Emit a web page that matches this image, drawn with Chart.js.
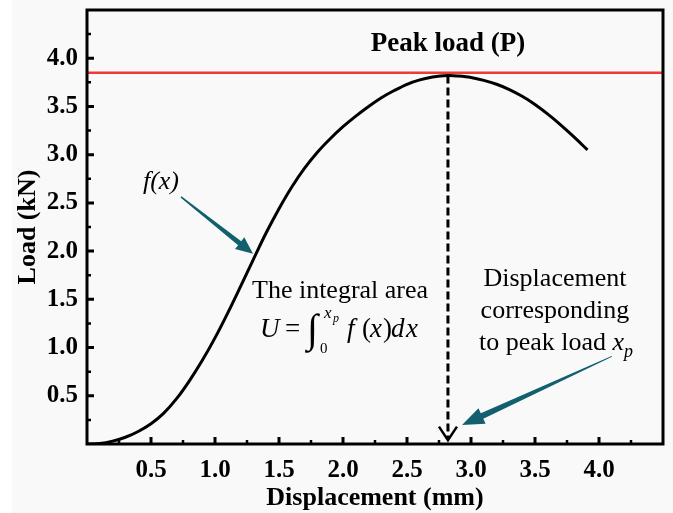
<!DOCTYPE html>
<html>
<head>
<meta charset="utf-8">
<title>Load - displacement</title>
<script src="https://cdn.jsdelivr.net/npm/chart.js@4.4.0/dist/chart.umd.min.js"></script>
<style>
  html, body { margin: 0; padding: 0; background: #fff; }
  canvas { display: block; }
</style>
</head>
<body>
<canvas id="myChart" width="673" height="513"></canvas>
<script>
// load-displacement curve (mm, kN)
const displacement = [0, 0.1, 0.2, 0.3, 0.4, 0.5, 0.6, 0.7, 0.8, 0.9, 1.0, 1.1, 1.2, 1.3, 1.4, 1.5,
  1.6, 1.7, 1.8, 1.9, 2.0, 2.1, 2.2, 2.3, 2.4, 2.5, 2.6, 2.7, 2.82, 2.9, 3.0, 3.1, 3.2, 3.3,
  3.4, 3.5, 3.6, 3.7, 3.8, 3.91];
const load = [0, 0.005, 0.03, 0.07, 0.13, 0.21, 0.32, 0.47, 0.655, 0.865, 1.10, 1.36, 1.635, 1.915, 2.19, 2.44,
  2.665, 2.86, 3.025, 3.165, 3.29, 3.40, 3.50, 3.59, 3.665, 3.73, 3.775, 3.805, 3.82, 3.815, 3.80, 3.77, 3.73, 3.675,
  3.605, 3.52, 3.42, 3.31, 3.19, 3.05];

const peakLoad = 3.85;   // horizontal red line
const peakX = 2.82;      // displacement at peak load
const peakY = 3.82;

const xTicks = [0.5, 1.0, 1.5, 2.0, 2.5, 3.0, 3.5, 4.0];
const yTicks = [0.5, 1.0, 1.5, 2.0, 2.5, 3.0, 3.5, 4.0];
const xMinor = [0.25, 0.75, 1.25, 1.75, 2.25, 2.75, 3.25, 3.75, 4.25];
const yMinor = [0.25, 0.75, 1.25, 1.75, 2.25, 2.75, 3.25, 3.75, 4.25];

const SERIF = '"Liberation Serif", "Times New Roman", serif';
const TEAL = '#12606e';

function arrow(ctx, x1, y1, x2, y2, wTail, wHead, headLen, headW) {
  const a = Math.atan2(y2 - y1, x2 - x1);
  const len = Math.hypot(x2 - x1, y2 - y1);
  ctx.save();
  ctx.translate(x1, y1);
  ctx.rotate(a);
  ctx.fillStyle = TEAL;
  ctx.beginPath();
  ctx.moveTo(0, -wTail / 2);
  ctx.lineTo(len - headLen, -wHead / 2);
  ctx.lineTo(len - headLen, -headW / 2);
  ctx.lineTo(len, 0);
  ctx.lineTo(len - headLen, headW / 2);
  ctx.lineTo(len - headLen, wHead / 2);
  ctx.lineTo(0, wTail / 2);
  ctx.closePath();
  ctx.fill();
  ctx.restore();
}

// text pieces placed at offsets from an origin
function pieces(ctx, parts, x, y) {
  parts.forEach(p => {
    ctx.font = p.font;
    ctx.fillText(p.t, x + p.dx, y + (p.dy || 0));
  });
}

const decorations = {
  id: 'decorations',
  beforeDraw(chart) {
    const ctx = chart.ctx;
    ctx.save();
    ctx.fillStyle = '#f9f9f9';
    ctx.fillRect(12, 0, chart.width - 12, chart.height);
    ctx.restore();
  },
  afterDatasetsDraw(chart) {
    const ctx = chart.ctx;
    const xs = chart.scales.x, ys = chart.scales.y;
    const a = chart.chartArea;
    const px = v => xs.getPixelForValue(v);
    const py = v => ys.getPixelForValue(v);

    ctx.save();
    // frame
    ctx.strokeStyle = '#000';
    ctx.lineWidth = 3;
    ctx.strokeRect(a.left, a.top, a.right - a.left, a.bottom - a.top);

    // inward ticks on bottom and left axes
    ctx.lineWidth = 3;
    ctx.beginPath();
    xTicks.forEach(v => { ctx.moveTo(px(v), a.bottom); ctx.lineTo(px(v), a.bottom - 7); });
    yTicks.forEach(v => { ctx.moveTo(a.left, py(v)); ctx.lineTo(a.left + 7, py(v)); });
    ctx.stroke();
    ctx.lineWidth = 2.5;
    ctx.beginPath();
    xMinor.forEach(v => { ctx.moveTo(px(v), a.bottom); ctx.lineTo(px(v), a.bottom - 4); });
    yMinor.forEach(v => { ctx.moveTo(a.left, py(v)); ctx.lineTo(a.left + 4, py(v)); });
    ctx.stroke();

    // open arrow head at the foot of the dashed line
    ctx.lineWidth = 2.5;
    ctx.beginPath();
    ctx.moveTo(px(peakX) - 9, py(0.18));
    ctx.lineTo(px(peakX), py(0.04));
    ctx.lineTo(px(peakX) + 9, py(0.18));
    ctx.stroke();

    // labels
    ctx.fillStyle = '#000';
    ctx.textAlign = 'center';
    ctx.textBaseline = 'alphabetic';
    ctx.font = 'bold 27px ' + SERIF;
    ctx.fillText('Peak load (P)', px(peakX), py(4.07));

    ctx.font = 'italic 26px ' + SERIF;
    ctx.fillText('f(x)', px(0.578), py(2.645));

    ctx.font = '26px ' + SERIF;
    ctx.fillText('The integral area', px(1.977), py(1.519));

    ctx.font = '26px ' + SERIF;
    ctx.fillText('Displacement', px(3.656), py(1.643));
    ctx.fillText('corresponding', px(3.656), py(1.302));

    ctx.textAlign = 'left';
    ctx.font = '26px ' + SERIF;
    const head = 'to peak load ';
    const wHead = ctx.measureText(head).width;
    ctx.font = 'italic 26px ' + SERIF;
    const wx = ctx.measureText('x').width;
    const x3 = px(3.656) - (wHead + wx + 7) / 2;
    const y3 = py(0.971);
    pieces(ctx, [
      { t: head, font: '26px ' + SERIF, dx: 0 },
      { t: 'x', font: 'italic 26px ' + SERIF, dx: wHead },
      { t: 'p', font: 'italic 18px ' + SERIF, dx: wHead + wx, dy: 7 }
    ], x3, y3);

    // U = integral from 0 to x_p of f(x)dx
    pieces(ctx, [
      { t: 'U', font: 'italic 27px ' + SERIF, dx: 0 },
      { t: '=', font: '27px ' + SERIF, dx: 25 },
      { t: '\u222B', font: '40px ' + SERIF, dx: 47, dy: 5 },
      { t: 'x', font: 'italic 17px ' + SERIF, dx: 64, dy: -19 },
      { t: 'p', font: 'italic 12px ' + SERIF, dx: 73, dy: -15 },
      { t: '0', font: '15px ' + SERIF, dx: 60, dy: 16 },
      { t: 'f', font: 'italic 27px ' + SERIF, dx: 87 },
      { t: '(', font: '27px ' + SERIF, dx: 102 },
      { t: 'x', font: 'italic 27px ' + SERIF, dx: 110 },
      { t: ')', font: '27px ' + SERIF, dx: 123 },
      { t: 'd', font: 'italic 27px ' + SERIF, dx: 131 },
      { t: 'x', font: 'italic 27px ' + SERIF, dx: 146 }
    ], px(1.352), py(1.105));

    // teal pointers
    arrow(ctx, px(0.734), py(2.562), px(1.297), py(1.973), 1.5, 5, 17, 15);
    arrow(ctx, px(4.10), py(0.909), px(2.93), py(0.196), 1, 6, 22, 17);
    ctx.restore();
  }
};

const curve = displacement.map((d, i) => ({ x: d, y: load[i] }));

const ctx = document.getElementById('myChart').getContext('2d');
const chart = new Chart(ctx, {
  type: 'line',
  data: {
    datasets: [
      {
        data: curve,
        borderColor: '#000',
        borderWidth: 3,
        pointRadius: 0,
        tension: 0.35
      },
      {
        data: [{ x: 0, y: peakLoad }, { x: 4.5, y: peakLoad }],
        borderColor: '#f03a3a',
        borderWidth: 2.5,
        pointRadius: 0
      },
      {
        data: [{ x: peakX, y: peakY }, { x: peakX, y: 0.05 }],
        borderColor: '#000',
        borderWidth: 3,
        borderDash: [8, 4],
        pointRadius: 0
      }
    ]
  },
  options: {
    responsive: false,
    animation: false,
    layout: { padding: { top: 10, right: 10, left: 0, bottom: 0 } },
    plugins: {
      legend: { display: false },
      tooltip: { enabled: false }
    },
    scales: {
      x: {
        type: 'linear',
        min: 0,
        max: 4.5,
        grid: { display: false, drawTicks: false },
        border: { display: false },
        afterBuildTicks: s => { s.ticks = xTicks.map(v => ({ value: v })); },
        afterFit: s => { s.height = 69; s.paddingLeft = 0; s.paddingRight = 0; },
        ticks: {
          color: '#000',
          padding: 12,
          font: { family: SERIF, weight: 'bold', size: 25 },
          callback: v => v.toFixed(1)
        },
        title: {
          display: true,
          text: 'Displacement (mm)',
          color: '#000',
          font: { family: SERIF, weight: 'bold', size: 26, lineHeight: 1.1 },
          padding: { top: 0, bottom: 0 }
        }
      },
      y: {
        type: 'linear',
        min: 0,
        max: 4.5,
        grid: { display: false, drawTicks: false },
        border: { display: false },
        afterBuildTicks: s => { s.ticks = yTicks.map(v => ({ value: v })); },
        afterFit: s => { s.width = 87; s.paddingTop = 0; s.paddingBottom = 0; },
        ticks: {
          color: '#000',
          padding: 9,
          font: { family: SERIF, weight: 'bold', size: 25 },
          callback: v => v.toFixed(1)
        },
        title: {
          display: true,
          text: 'Load (kN)',
          color: '#000',
          font: { family: SERIF, weight: 'bold', size: 26, lineHeight: 1.1 },
          padding: { top: 14, bottom: 0 }
        }
      }
    }
  },
  plugins: [decorations]
});
</script>
</body>
</html>
